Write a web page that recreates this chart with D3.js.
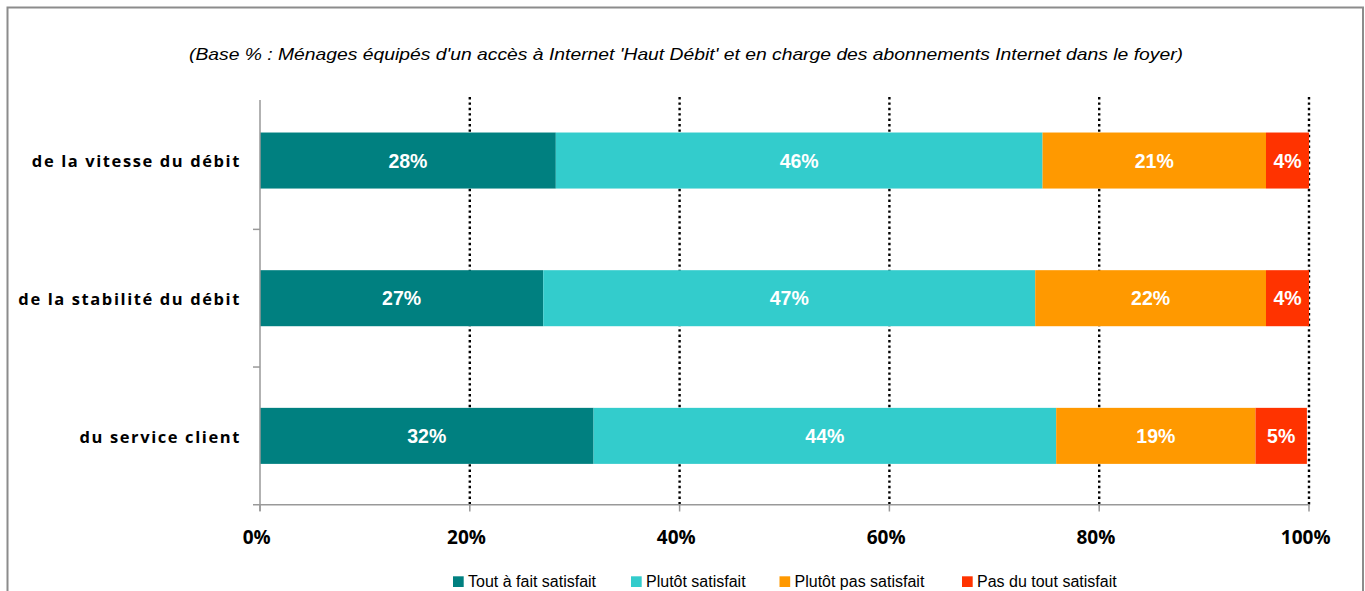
<!DOCTYPE html>
<html><head><meta charset="utf-8">
<script src="https://cdn.jsdelivr.net/npm/d3@7"></script>
<style>body{margin:0;background:#fff;}svg{display:block;}</style>
</head><body><svg id="c" width="1365" height="591"></svg>
<script>
const categories = ["de la vitesse du débit", "de la stabilité du débit", "du service client"];
const series = ["Tout à fait satisfait", "Plutôt satisfait", "Plutôt pas satisfait", "Pas du tout satisfait"];
const colors = ["#008080", "#33CCCC", "#FF9900", "#FF3300"];
const toutAFait = [28.2, 27.0, 31.8];
const plutot = [46.4, 46.9, 44.1];
const plutotPas = [21.3, 22.0, 19.0];
const pasDuTout = [4.1, 4.1, 4.9];
const labels = [["28%","46%","21%","4%"],["27%","47%","22%","4%"],["32%","44%","19%","5%"]];
const xTicks = [0, 20, 40, 60, 80, 100];
const title = "(Base % : Ménages équipés d'un accès à Internet 'Haut Débit' et en charge des abonnements Internet dans le foyer)";

const svg = d3.select("#c");
// frame
svg.append("rect").attr("x",7.5).attr("y",7.5).attr("width",1355.5).attr("height",600)
  .attr("fill","none").attr("stroke","#8c8c8c").attr("stroke-width",2);

svg.append("text").attr("x",189).attr("y",60)
  .attr("font-family","Liberation Sans, Arial, sans-serif").attr("font-style","italic")
  .attr("font-size",17).attr("textLength",994).attr("lengthAdjust","spacingAndGlyphs")
  .attr("fill","#000").text(title);

const x = d3.scaleLinear().domain([0,100]).range([260,1309]);
const y = d3.scaleBand().domain(categories).range([91.7,504.7]).paddingInner(0.593).paddingOuter(0.2965);

// gridlines
svg.append("g").selectAll("line").data(xTicks.filter(d=>d>0)).join("line")
  .attr("x1",d=>x(d)).attr("x2",d=>x(d)).attr("y1",97).attr("y2",504.7)
  .attr("stroke","#000").attr("stroke-width",2.4).attr("stroke-dasharray","2.4,3");

const data = categories.map((c,i)=>({cat:c, vals:[toutAFait[i],plutot[i],plutotPas[i],pasDuTout[i]], labs:labels[i]}));
const g = svg.append("g");
data.forEach(d=>{
  let acc = 0;
  d.vals.forEach((v,j)=>{
    const x0 = x(acc), x1 = x(acc+v);
    g.append("rect").attr("x",x0).attr("y",y(d.cat)).attr("width",x1-x0).attr("height",y.bandwidth()).attr("fill",colors[j]);
    g.append("text").attr("x",(x0+x1)/2).attr("y",y(d.cat)+y.bandwidth()/2+7).attr("text-anchor","middle")
      .attr("font-family","Liberation Sans, Arial, sans-serif").attr("font-weight","bold").attr("font-size",19.5)
      .attr("fill","#fff").text(d.labs[j]);
    acc += v;
  });
});

// axes
const axisColor = "#999";
svg.append("line").attr("x1",260).attr("x2",260).attr("y1",100).attr("y2",511).attr("stroke",axisColor).attr("stroke-width",1.5);
svg.append("line").attr("x1",253).attr("x2",1309).attr("y1",504.7).attr("y2",504.7).attr("stroke",axisColor).attr("stroke-width",1.5);
[1,2].forEach(k=>{
  const yy = 91.7 + k*y.step();
  svg.append("line").attr("x1",253).attr("x2",260).attr("y1",yy).attr("y2",yy).attr("stroke",axisColor).attr("stroke-width",1.5);
});
svg.append("g").selectAll("line").data(xTicks).join("line")
  .attr("x1",d=>x(d)).attr("x2",d=>x(d)).attr("y1",504.7).attr("y2",511.5).attr("stroke",axisColor).attr("stroke-width",1.5);
svg.append("g").selectAll("text").data(xTicks).join("text")
  .attr("x",d=>x(d)-3.3).attr("y",544.3).attr("text-anchor","middle")
  .attr("font-family","Open Sans, sans-serif").attr("font-weight","bold").attr("font-size",19)
  .attr("fill","#000").text(d=>d+"%");
svg.append("g").selectAll("text").data(categories).join("text")
  .attr("x",241).attr("y",d=>y(d)+y.bandwidth()/2+6.7).attr("text-anchor","end")
  .attr("font-family","Open Sans, sans-serif").attr("font-weight","bold").attr("font-size",16.5)
  .attr("letter-spacing",1.6).attr("fill","#000").text(d=>d);

// legend
const legX = [453, 631, 779.5, 962];
const leg = svg.append("g");
series.forEach((s,i)=>{
  leg.append("rect").attr("x",legX[i]).attr("y",576.3).attr("width",10.7).attr("height",10.7).attr("fill",colors[i]);
  leg.append("text").attr("x",legX[i]+15).attr("y",587.3).attr("font-family","Liberation Sans, Arial, sans-serif")
    .attr("font-size",16).attr("fill","#000").text(s);
});
</script></body></html>
